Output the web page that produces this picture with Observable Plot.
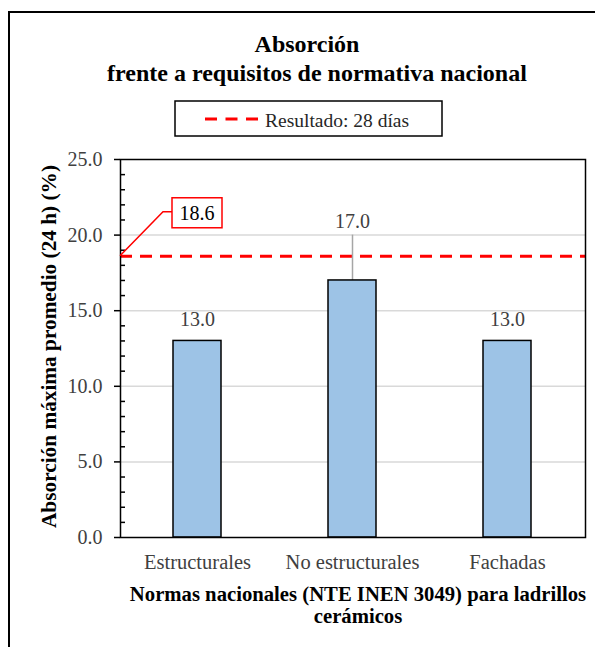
<!DOCTYPE html>
<html>
<head>
<meta charset="utf-8">
<script src="https://cdn.jsdelivr.net/npm/d3@7"></script>
<script src="https://cdn.jsdelivr.net/npm/@observablehq/plot@0.6"></script>
<style>
  body { margin: 0; background: #fff; font-family: 'Liberation Serif', 'DejaVu Serif', serif; }
  #page { position: relative; width: 595px; height: 647px; overflow: hidden; background: #fff; }
  #frame { position: absolute; left: 8px; top: 11px; width: 700px; height: 700px; border-left: 2px solid #000; border-top: 2px solid #000; }
  #header { position: absolute; left: 0; top: 0; }
  #chart { position: absolute; left: 10px; top: 140px; }
  svg text { font-family: 'Liberation Serif', 'DejaVu Serif', serif; }
</style>
</head>
<body>
<div id="page">
  <div id="frame"></div>
  <div id="header"></div>
  <div id="chart"></div>
</div>
<script>
// ---- data ----
const titleLines = ["Absorción", "frente a requisitos de normativa nacional"];
const legendLabel = "Resultado: 28 días";
const categories = ["Estructurales", "No estructurales", "Fachadas"];
const values = [13.0, 17.0, 13.0];
const errorUp = [0, 3.0, 0];
const referenceValue = 18.6;
const yTicks = [0, 5, 10, 15, 20, 25];
const yGrid = [5, 10, 15, 20];
const yMinorTicks = [1, 2, 3, 4, 6, 7, 8, 9, 11, 12, 13, 14, 16, 17, 18, 19, 21, 22, 23, 24];
const yTitle = "Absorción máxima promedio (24 h) (%)";
const xTitle = "Normas nacionales (NTE INEN 3049) para ladrillos\ncerámicos";

const data = categories.map((c, i) => ({cat: c, value: values[i], err: errorUp[i]}));
const fmt = d3.format(".1f");
const FONT = "'Liberation Serif', 'DejaVu Serif', serif";

// ---- header: title + legend ----
const header = d3.select("#header").append("svg")
  .attr("width", 595).attr("height", 140)
  .style("font-family", FONT);
header.append("text").attr("x", 307).attr("y", 51.7).attr("text-anchor", "middle")
  .attr("font-size", 24).attr("font-weight", "bold").attr("fill", "#000").text(titleLines[0]);
header.append("text").attr("x", 317).attr("y", 81).attr("text-anchor", "middle")
  .attr("font-size", 24).attr("font-weight", "bold").attr("fill", "#000").text(titleLines[1]);
header.append("rect").attr("x", 175).attr("y", 101).attr("width", 267).attr("height", 35)
  .attr("fill", "#fff").attr("stroke", "#000").attr("stroke-width", 1.5);
header.append("line").attr("x1", 205).attr("x2", 258).attr("y1", 119).attr("y2", 119)
  .attr("stroke", "#ff0000").attr("stroke-width", 3).attr("stroke-dasharray", "12,8.5");
header.append("text").attr("x", 265).attr("y", 126.5).attr("font-size", 19.5)
  .attr("fill", "#262626").text(legendLabel);

// ---- callout for the reference value ----
function callout(index, scales, values, dimensions) {
  const x0 = dimensions.marginLeft;
  const y0 = scales.y(referenceValue);
  const g = d3.create("svg:g");
  g.append("path")
    .attr("d", `M${x0},${y0}L${x0 + 43},${y0 - 44}H${x0 + 52}`)
    .attr("fill", "none").attr("stroke", "#ff0000").attr("stroke-width", 1.5);
  g.append("rect")
    .attr("x", x0 + 52).attr("y", y0 - 58).attr("width", 50).attr("height", 30)
    .attr("fill", "#fff").attr("stroke", "#ff0000").attr("stroke-width", 1.5);
  g.append("text")
    .attr("x", x0 + 77).attr("y", y0 - 43).attr("dy", "0.35em")
    .attr("text-anchor", "middle").attr("font-size", 20).attr("fill", "#000")
    .text(fmt(referenceValue));
  return g.node();
}

const chart = Plot.plot({
  width: 585,
  height: 507,
  marginLeft: 110,
  marginRight: 10,
  marginTop: 19,
  marginBottom: 110,
  style: {fontFamily: FONT, background: "transparent", overflow: "visible"},
  x: {domain: categories, paddingInner: 0.69, paddingOuter: 0.345, label: null},
  y: {domain: [0, 25], label: null},
  marks: [
    Plot.gridY(yGrid, {stroke: "#d9d9d9", strokeOpacity: 1, strokeWidth: 1.5}),
    Plot.ruleY([referenceValue], {stroke: "#ff0000", strokeWidth: 3, strokeDasharray: "12,8"}),
    Plot.ruleX(data.filter(d => d.err > 0), {x: "cat", y1: "value", y2: d => d.value + d.err, stroke: "#a6a6a6", strokeWidth: 1.5}),
    Plot.barY(data, {x: "cat", y: "value", fill: "#9dc3e6", stroke: "#000", strokeWidth: 1.5}),
    Plot.frame({stroke: "#000", strokeWidth: 1.5}),
    Plot.axisY(yTicks, {tickSize: 6, tickPadding: 12, tickFormat: fmt, fontSize: 20, fill: "#404040", stroke: "#000", strokeWidth: 1.5, label: null}),
    Plot.axisY(yMinorTicks, {tickSize: 5, dx: 5, tickFormat: () => "", stroke: "#000", strokeWidth: 1.5, label: null}),
    Plot.axisX({tickSize: 0, tickPadding: 17, fontSize: 20.5, fill: "#404040", label: null}),
    Plot.text(data.filter(d => d.err === 0), {x: "cat", y: "value", text: d => fmt(d.value), dy: -21, fontSize: 20, fill: "#404040"}),
    Plot.text(data.filter(d => d.err > 0), {x: "cat", y: d => d.value + d.err, text: d => fmt(d.value), dy: -14, fontSize: 20, fill: "#404040"}),
    Plot.text([yTitle], {text: d => d, frameAnchor: "left", textAnchor: "middle", lineAnchor: "middle", rotate: -90, dx: -71, dy: -2, fontSize: 21.3, fontWeight: "bold", fill: "#000"}),
    Plot.text([xTitle], {text: d => d, frameAnchor: "bottom", textAnchor: "middle", lineAnchor: "top", dy: 48, dx: 5, fontSize: 20.7, fontWeight: "bold", fill: "#000", lineHeight: 1.07}),
    callout
  ]
});
document.getElementById("chart").appendChild(chart);
</script>
</body>
</html>
